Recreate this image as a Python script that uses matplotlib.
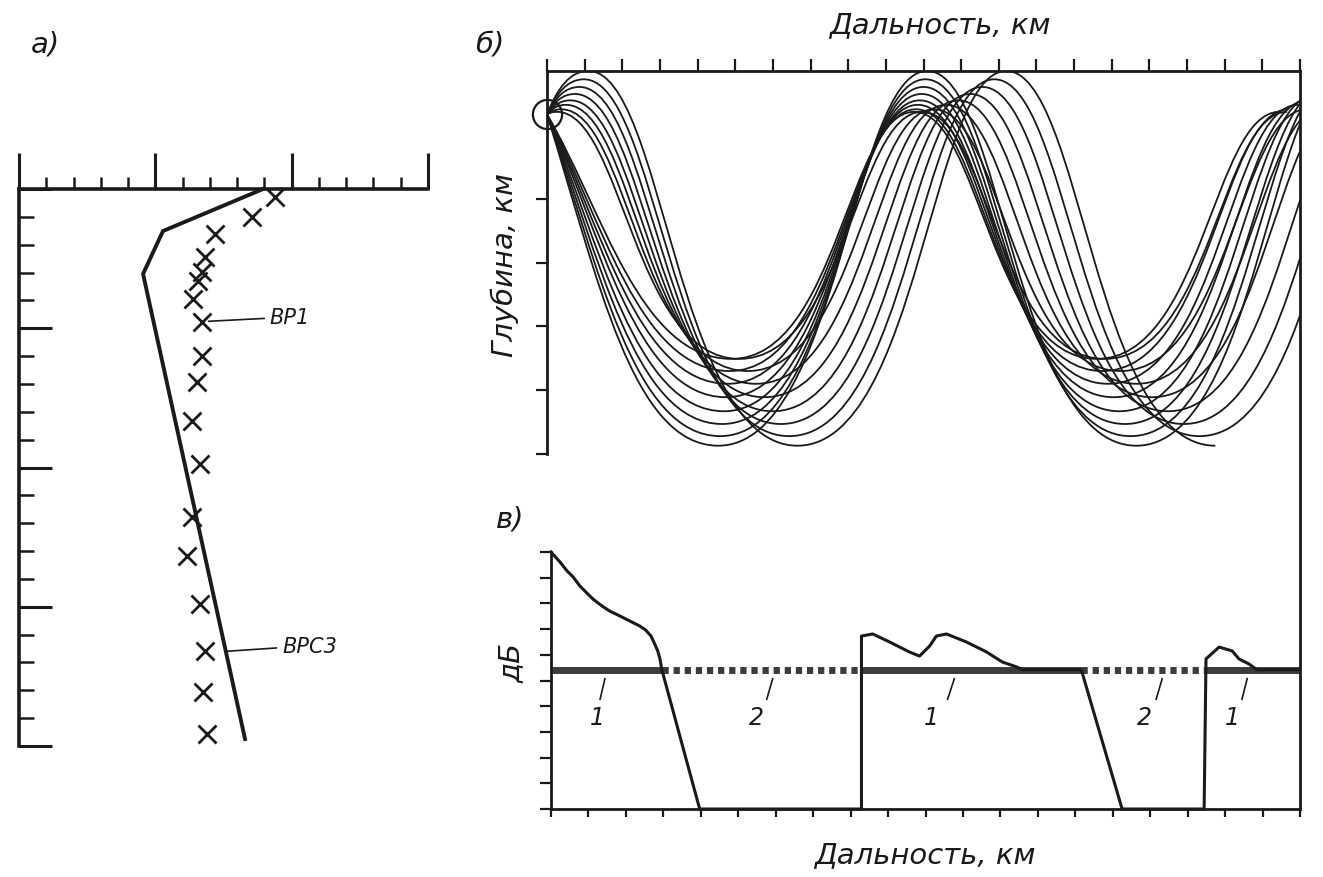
import numpy as np
import matplotlib
matplotlib.use("Agg")
import matplotlib.pyplot as plt
from matplotlib.path import Path
from matplotlib.patches import PathPatch
from matplotlib.lines import Line2D

plt.rcParams['font.family'] = ['DejaVu Sans']
plt.rcParams['font.style'] = 'italic'

# ---- panel a) : sound speed profile (speed units, depth units)
profile_speed = [8.95, 5.28, 4.55, 8.29]
profile_depth = [0.0, 1.51, 3.05, 19.75]

cross_speed = [9.39, 8.54, 7.19, 6.82, 6.71, 6.56, 6.38, 6.71, 6.71, 6.53,
               6.34, 6.64, 6.34, 6.16, 6.64, 6.82, 6.75, 6.89]
cross_depth = [0.29, 1.01, 1.62, 2.44, 2.98, 3.30, 3.95, 4.78, 6.00, 6.93,
               8.33, 9.87, 11.78, 13.18, 14.90, 16.59, 18.06, 19.57]

# ---- panel б) : rays, one entry per ray pair (deep -> shallow)
source_depth = 0.68
ray_bottom_depth = [5.87, 5.72, 5.53, 5.33, 5.11, 4.90, 4.70, 4.51]
ray_top_depth = [0.0, 0.13, 0.25, 0.36, 0.46, 0.53, 0.60, 0.64]
ray_cycle = [11.1, 10.9, 10.7, 10.5, 10.3, 10.1, 9.9, 9.7]
down_first_bottom = [4.55, 4.60, 4.65, 4.70, 4.75, 4.80, 4.85, 4.90]
down_launch_slope = [1.9, 1.75, 1.6, 1.45, 1.3, 1.2, 1.1, 1.0]
up_first_top = [1.10, 0.98, 0.86, 0.74, 0.62, 0.50, 0.38, 0.26]

# ---- panel в) : level, dB
level_x = [0.0, 0.24, 0.43, 0.59, 0.77, 0.96, 1.12, 1.36, 1.57, 1.84, 2.11,
           2.37, 2.53, 2.67, 2.77, 2.85, 2.91, 2.96, 3.97,
           8.29, 8.29, 8.59, 9.04, 9.57, 9.84, 10.11, 10.29, 10.56, 11.09,
           11.63, 12.05, 12.43, 12.59, 14.16, 15.25, 17.44, 17.49, 17.84,
           18.19, 18.37, 18.64, 18.85, 20.0]
level_y = [10.0, 9.61, 9.26, 9.03, 8.68, 8.40, 8.17, 7.90, 7.70, 7.51, 7.31,
           7.12, 6.96, 6.73, 6.42, 6.15, 5.84, 5.42, 0.0,
           0.0, 6.73, 6.81, 6.50, 6.11, 5.95, 6.34, 6.73, 6.81, 6.50,
           6.11, 5.72, 5.53, 5.42, 5.42, 0.0, 0.0, 5.84, 6.30,
           6.15, 5.84, 5.64, 5.42, 5.42]
threshold = 5.42
zone_edges = [0.0, 2.96, 8.29, 14.16, 17.44, 20.0]
zone_kind = [1, 2, 1, 2, 1]
label_text = ['1', '2', '1', '2', '1']
label_x = [1.23, 5.49, 10.16, 15.84, 18.19]
leader_top_x = [1.44, 5.92, 10.77, 16.32, 18.59]
leader_bot_x = [1.31, 5.76, 10.59, 16.16, 18.45]

W, H = 1323, 878
fig = plt.figure(figsize=(W / 100, H / 100), dpi=100)


def add_ax(l, t, r, b):
    return fig.add_axes([l / W, 1 - b / H, (r - l) / W, (b - t) / H])


ink = '#1a1a1a'

# ================= a)
ax_a = add_ax(19, 190, 428, 747)
ax_a.set_xlim(0, 15)
ax_a.set_ylim(20, 0)
for s in ['right', 'bottom']:
    ax_a.spines[s].set_visible(False)
for s in ['top', 'left']:
    ax_a.spines[s].set_linewidth(2.6)
    ax_a.spines[s].set_color(ink)
ax_a.xaxis.tick_top()
ax_a.set_xticks([0, 5, 10, 15])
ax_a.set_xticks(np.arange(0, 16), minor=True)
ax_a.set_yticks([0, 5, 10, 15, 20])
ax_a.set_yticks(np.arange(0, 21), minor=True)
ax_a.tick_params(axis='x', which='major', direction='out', length=26, width=2.2,
                 color=ink, labeltop=False, bottom=False)
ax_a.tick_params(axis='x', which='minor', direction='out', length=9, width=1.8,
                 color=ink, bottom=False)
ax_a.tick_params(axis='y', which='major', direction='in', length=24, width=2.2,
                 color=ink, labelleft=False)
ax_a.tick_params(axis='y', which='minor', direction='in', length=11, width=1.8,
                 color=ink)

ax_a.plot(profile_speed, profile_depth, color=ink, lw=2.8, clip_on=False,
          solid_joinstyle='miter')
ax_a.plot(cross_speed, cross_depth, ls='none', marker='x', ms=13, mew=2.0,
          color=ink, clip_on=False)
ax_a.annotate('ВР1', xy=(6.95, 4.75), xytext=(9.2, 4.6), fontsize=15,
              va='center', ha='left', color=ink,
              arrowprops=dict(arrowstyle='-', lw=1.2, color=ink,
                              shrinkA=2, shrinkB=0))
ax_a.annotate('ВРС3', xy=(7.6, 16.6), xytext=(9.65, 16.4), fontsize=15,
              va='center', ha='left', color=ink,
              arrowprops=dict(arrowstyle='-', lw=1.2, color=ink,
                              shrinkA=2, shrinkB=0))

# ================= б)
ax_b = add_ax(547, 72, 1300, 455)
ax_b.set_xlim(0, 20)
ax_b.set_ylim(6, 0)
for s in ['right', 'bottom']:
    ax_b.spines[s].set_visible(False)
for s in ['top', 'left']:
    ax_b.spines[s].set_linewidth(2.0)
    ax_b.spines[s].set_color(ink)
ax_b.xaxis.tick_top()
ax_b.set_xticks(np.arange(0, 21))
ax_b.set_yticks([2, 3, 4, 5, 6])
ax_b.tick_params(axis='x', direction='out', length=9, width=1.6, color=ink,
                 labeltop=False, bottom=False)
ax_b.tick_params(axis='y', direction='out', length=8, width=1.6, color=ink,
                 labelleft=False)

HT, HB = 0.36, 0.58


def ray_patch(first_ctrl, turning):
    # first_ctrl: (c1, c2, end) from the source; turning: list of (x, z, is_top)
    verts = [(0.0, source_depth)] + list(first_ctrl)
    codes = [Path.MOVETO] + [Path.CURVE4] * 3
    for p, q in zip(turning[:-1], turning[1:]):
        dx = q[0] - p[0]
        hp = HT if p[2] else HB
        hq = HT if q[2] else HB
        verts += [(p[0] + hp * dx, p[1]), (q[0] - hq * dx, q[1]), (q[0], q[1])]
        codes += [Path.CURVE4] * 3
    return PathPatch(Path(verts, codes), fill=False, lw=1.3, edgecolor=ink)


for zb, zt, cyc, xb, sl, xt in zip(ray_bottom_depth, ray_top_depth, ray_cycle,
                                   down_first_bottom, down_launch_slope,
                                   up_first_top):
    half = cyc / 2
    # launched downward
    pts = []
    x, top = xb, False
    while x < 23:
        pts.append((x, zt if top else zb, top))
        x += half
        top = not top
    first = [(0.3 * xb, source_depth + 0.3 * xb * sl), (xb - 0.5 * xb, zb),
             (xb, zb)]
    ax_b.add_patch(ray_patch(first, pts))
    # launched upward
    pts = []
    x, top = xt, True
    while x < 23:
        pts.append((x, zt if top else zb, top))
        x += half
        top = not top
    first = [(0.25 * xt, source_depth - 0.6 * (source_depth - zt)),
             (xt - 0.45 * xt, zt), (xt, zt)]
    ax_b.add_patch(ray_patch(first, pts))

ax_b.plot([0], [source_depth], marker='o', ms=21, mfc='none', mec=ink, mew=1.6,
          clip_on=False)

# ================= в)
ax_c = add_ax(551, 553, 1300, 810)
ax_c.set_xlim(0, 20)
ax_c.set_ylim(0, 10)
for s in ['right', 'top']:
    ax_c.spines[s].set_visible(False)
for s in ['bottom', 'left']:
    ax_c.spines[s].set_linewidth(2.0)
    ax_c.spines[s].set_color(ink)
ax_c.set_xticks(np.arange(0, 21))
ax_c.set_yticks(np.arange(0, 11))
ax_c.tick_params(axis='x', direction='out', length=6, width=1.6, color=ink,
                 labelbottom=False)
ax_c.tick_params(axis='y', direction='out', length=8, width=1.6, color=ink,
                 labelleft=False)

for x0, x1, k in zip(zone_edges[:-1], zone_edges[1:], zone_kind):
    ls = '-' if k == 1 else (0, (0.9, 0.7))
    ax_c.plot([x0, x1], [threshold, threshold], color='#3c3c3c', lw=5, ls=ls,
              solid_capstyle='butt', dash_capstyle='butt', clip_on=False)
ax_c.plot(level_x, level_y, color=ink, lw=2.2, clip_on=False)
for t, xl, xa, xbt in zip(label_text, label_x, leader_top_x, leader_bot_x):
    ax_c.plot([xa, xbt], [threshold - 0.35, threshold - 1.15], color=ink, lw=1.2)
    ax_c.text(xl, threshold - 1.85, t, fontsize=17, ha='center', va='center',
              color=ink)

# continuous right border of б) and в)
pb, pc = ax_b.get_position(), ax_c.get_position()
fig.add_artist(Line2D([pb.x1, pb.x1], [pc.y0, pb.y1], color=ink, lw=2.0,
                      transform=fig.transFigure))

# ================= texts
fs = 21
fig.text(45 / W, 1 - 45 / H, 'а)', fontsize=fs, ha='center', va='center', color=ink)
fig.text(490 / W, 1 - 45 / H, 'б)', fontsize=fs, ha='center', va='center', color=ink)
fig.text(510 / W, 1 - 520 / H, 'в)', fontsize=fs, ha='center', va='center', color=ink)
fig.text(940 / W, 1 - 25 / H, 'Дальность, км', fontsize=fs, ha='center',
         va='center', color=ink)
fig.text(925 / W, 1 - 855 / H, 'Дальность, км', fontsize=fs, ha='center',
         va='center', color=ink)
fig.text(505 / W, 1 - 265 / H, 'Глубина, км', fontsize=fs, ha='center',
         va='center', rotation=90, color=ink)
fig.text(512 / W, 1 - 663 / H, 'дБ', fontsize=fs, ha='center', va='center',
         rotation=90, color=ink)

fig.savefig('out.png', dpi=100)
